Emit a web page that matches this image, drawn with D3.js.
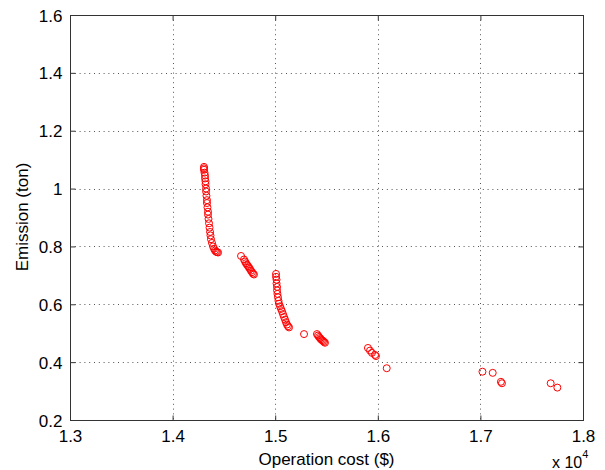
<!DOCTYPE html>
<html><head><meta charset="utf-8">
<script src="https://cdn.jsdelivr.net/npm/d3@7"></script>
<style>body{margin:0;background:#fff}svg{display:block}text{font-family:"Liberation Sans",Arial,sans-serif}</style>
</head><body><svg id="c" width="605" height="470"></svg>
<script>
// Operation cost ($) and emission (ton) for each solution
const cost = [
 14306,14306,14306,14311,14316,14316,14321,14321,14326,14326,14330,14335,14335,14340,14345,14345,14350,14355,14360,14365,14369,14374,14384,14394,14404,14413,14423,14433,14443,
 14667,14696,14706,14715,14725,14735,14745,14754,14764,14774,14784,14793,
 15008,15008,15013,15013,15018,15018,15022,15027,15032,15037,15047,15057,15066,15076,15086,15096,15105,15115,15125,15135,
 15281,
 15407,15417,15427,15437,15446,15456,15466,15476,15485,
 15904,15924,15943,15973,15982,
 16087,
 17020,17120,17200,17210,17685,17750
];
const emission = [
 1.075,1.070,1.065,1.055,1.045,1.035,1.025,1.015,1.000,0.990,0.975,0.960,0.950,0.935,0.920,0.910,0.895,0.880,0.865,0.850,0.838,0.825,0.812,0.800,0.792,0.786,0.782,0.780,0.779,
 0.767,0.755,0.748,0.742,0.737,0.732,0.727,0.722,0.716,0.711,0.706,0.703,
 0.705,0.695,0.685,0.672,0.660,0.648,0.636,0.624,0.612,0.602,0.593,0.584,0.576,0.566,0.556,0.547,0.538,0.530,0.524,0.520,
 0.497,
 0.497,0.492,0.487,0.483,0.479,0.476,0.473,0.470,0.467,
 0.449,0.440,0.432,0.425,0.421,
 0.379,
 0.367,0.363,0.332,0.327,0.327,0.312
];
const xTicks = [13000,14000,15000,16000,17000,18000];
const xTickLabels = ["1.3","1.4","1.5","1.6","1.7","1.8"];
const yTicks = [0.2,0.4,0.6,0.8,1.0,1.2,1.4,1.6];
const yTickLabels = ["0.2","0.4","0.6","0.8","1","1.2","1.4","1.6"];
const xTitle = "Operation cost ($)";
const yTitle = "Emission (ton)";

const L=70,R=583,T=15,B=420;
const svg=d3.select("#c");
const x=d3.scaleLinear().domain([13000,18000]).range([L,R]);
const y=d3.scaleLinear().domain([0.2,1.6]).range([B,T]);
const px=v=>Math.round(x(v))+0.5, py=v=>Math.round(y(v))+0.5;

const g=svg.append("g");
// grid
g.selectAll(".gx").data(xTicks.slice(1,-1)).enter().append("line")
 .attr("x1",px).attr("x2",px).attr("y1",T).attr("y2",B)
 .attr("stroke","#555").attr("stroke-width",1).attr("stroke-dasharray","1,3.8");
g.selectAll(".gy").data(yTicks.slice(1,-1)).enter().append("line")
 .attr("y1",py).attr("y2",py).attr("x1",L).attr("x2",R)
 .attr("stroke","#555").attr("stroke-width",1).attr("stroke-dasharray","1,3.8");

// axes (ticks inward, all four sides)
const fmtX=(d)=>xTickLabels[xTicks.indexOf(d)];
const fmtY=(d)=>yTickLabels[yTicks.findIndex(t=>Math.abs(t-d)<1e-9)];
const ax=svg.append("g").attr("transform",`translate(0,${B+0.5})`)
 .call(d3.axisBottom(x).tickValues(xTicks).tickFormat(fmtX).tickSizeInner(-5).tickSizeOuter(0));
const ay=svg.append("g").attr("transform",`translate(${L+0.5},0)`)
 .call(d3.axisLeft(y).tickValues(yTicks).tickFormat(fmtY).tickSizeInner(-5).tickSizeOuter(0).tickPadding(8));
const at=svg.append("g").attr("transform",`translate(0,${T+0.5})`)
 .call(d3.axisTop(x).tickValues(xTicks).tickFormat("").tickSizeInner(-5).tickSizeOuter(0));
const ar=svg.append("g").attr("transform",`translate(${R+0.5},0)`)
 .call(d3.axisRight(y).tickValues(yTicks).tickFormat("").tickSizeInner(-5).tickSizeOuter(0));
[ax,ay,at,ar].forEach(a=>{
 a.select(".domain").remove();
 a.selectAll("line").attr("stroke","#333");
 a.selectAll("text").attr("font-size",17).attr("fill","#000").attr("font-family","Liberation Sans, Arial, sans-serif");
});
ax.selectAll("text").attr("dy",null).attr("y",21);
ay.selectAll("text").attr("dy","0.36em");
// box
svg.append("rect").attr("x",L+0.5).attr("y",T+0.5).attr("width",R-L).attr("height",B-T)
 .attr("fill","none").attr("stroke","#333").attr("stroke-width",1);

// points
svg.append("g").selectAll("circle").data(cost.map((c,i)=>[c,emission[i]])).enter().append("circle")
 .attr("cx",d=>x(d[0])).attr("cy",d=>y(d[1])).attr("r",3.5)
 .attr("fill","none").attr("stroke","#ff0000").attr("stroke-width",1);

// titles
svg.append("text").attr("x",(L+R)/2).attr("y",465).attr("text-anchor","middle")
 .attr("font-size",17).text(xTitle);
svg.append("text").attr("transform",`translate(28,217) rotate(-90)`).attr("text-anchor","middle")
 .attr("font-size",17).text(yTitle);
const ex=svg.append("text").attr("x",552).attr("y",468).attr("font-size",16);
ex.append("tspan").text("x 10");
ex.append("tspan").attr("font-size",11).attr("dy",-10).text("4");
</script></body></html>
